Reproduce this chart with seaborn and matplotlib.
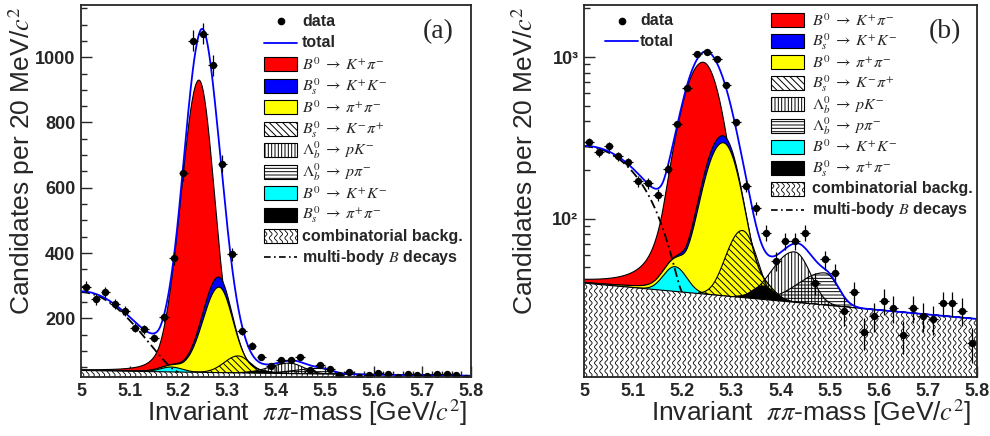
import numpy as np
import matplotlib
matplotlib.use("Agg")
import matplotlib.pyplot as plt
import seaborn as sns
from matplotlib.collections import LineCollection
from matplotlib.patches import Rectangle
from matplotlib.ticker import MultipleLocator, LogLocator, NullFormatter

# ---------------- binned data: pi pi invariant mass, 20 MeV/c^2 bins ----------------
mass_range = (5.0, 5.8)
bin_edges = np.linspace(mass_range[0], mass_range[1], 41)
bin_centers = 0.5 * (bin_edges[:-1] + bin_edges[1:])
counts = np.array([297, 258, 280, 244, 223, 171, 166, 140, 203, 384,
                   645, 1050, 1072, 975, 673, 396, 160, 116, 82, 55,
                   73, 73, 82, 40, 56, 46, 27, 35, 20, 25,
                   31, 28, 19, 28, 25, 24, 30, 30, 27, 17])

# ---------------- fit components ----------------
# peak shapes: [mean, sigma low side, sigma high side, peak height]
comb_level = [40.0, 24.0]            # combinatorial background at 5.0 and 5.8
multibody_par = [240.0, 5.20, 1.5]   # height at 5.0, kinematic endpoint, power
radiative_tail = [2.2, 2.0]          # Crystal Ball alpha, n
b0_kpi = [5.242, 0.036, 0.032, 895.0]
bs_kk = [5.277, 0.034, 0.022, 32.0]
b0_pipi = [5.283, 0.033, 0.029, 262.0]
bs_kpi = [5.322, 0.028, 0.025, 52.0]
lb_pk = [5.428, 0.040, 0.028, 32.0]
lb_ppi = [5.490, 0.050, 0.024, 17.0]
b0_kk = [5.185, 0.022, 0.022, 15.0]
bs_pipi = [5.365, 0.022, 0.022, 7.0]

comp_labels = [r"$B^0 \;\rightarrow\; K^{+}\pi^{-}$", r"$B_s^0 \;\rightarrow\; K^{+}K^{-}$",
               r"$B^0 \;\rightarrow\; \pi^{+}\pi^{-}$", r"$B_s^0 \;\rightarrow\; K^{-}\pi^{+}$",
               r"$\Lambda_b^0 \;\rightarrow\; pK^{-}$", r"$\Lambda_b^0 \;\rightarrow\; p\pi^{-}$",
               r"$B^0 \;\rightarrow\; K^{+}K^{-}$", r"$B_s^0 \;\rightarrow\; \pi^{+}\pi^{-}$"]
comb_label = "combinatorial backg."
multi_label = r"multi-body $B$ decays"
x_tick_vals = [5.0, 5.1, 5.2, 5.3, 5.4, 5.5, 5.6, 5.7, 5.8]
x_tick_text = ["5", "5.1", "5.2", "5.3", "5.4", "5.5", "5.6", "5.7", "5.8"]
ylin_tick_vals = [200, 400, 600, 800, 1000]
ylog_tick_vals = [100, 1000]
ylog_tick_text = ["10\u00b2", "10\u00b3"]

RED, BLUE, YELLOW, CYAN = "#ff0000", "#0000ff", "#ffff00", "#00ffff"


def bifurcated_gauss(x, p):
    mean, s_lo, s_hi, h = p
    s = np.where(x < mean, s_lo, s_hi)
    return h * np.exp(-0.5 * ((x - mean) / s) ** 2)


def crystal_ball(x, p, tail):
    mean, s_lo, s_hi, h = p
    alpha, n = tail
    t = np.where(x < mean, (x - mean) / s_lo, (x - mean) / s_hi)
    a = (n / alpha) ** n * np.exp(-0.5 * alpha ** 2)
    b = n / alpha - alpha
    low = a / np.power(np.maximum(b - t, 1e-9), n)
    return h * np.where(t < -alpha, low, np.exp(-0.5 * t ** 2))


def combinatorial(x, ends):
    lo, hi = ends
    return lo * (hi / lo) ** ((x - mass_range[0]) / (mass_range[1] - mass_range[0]))


def multibody(x, p):
    h, end, pw = p
    u = np.clip((x - mass_range[0]) / (end - mass_range[0]), 0, 1)
    return h * (1 - u ** 2) ** pw


xf = np.linspace(mass_range[0], mass_range[1], 801)
c_comb = combinatorial(xf, comb_level)
c_multi = multibody(xf, multibody_par)
c_kpi = crystal_ball(xf, b0_kpi, radiative_tail)
c_pipi = crystal_ball(xf, b0_pipi, radiative_tail)
c_bskk = bifurcated_gauss(xf, bs_kk)
c_bskpi = bifurcated_gauss(xf, bs_kpi)
c_lbpk = bifurcated_gauss(xf, lb_pk)
c_lbppi = bifurcated_gauss(xf, lb_ppi)
c_kk = bifurcated_gauss(xf, b0_kk)
c_bspipi = bifurcated_gauss(xf, bs_pipi)
total = (c_comb + c_multi + c_kpi + c_pipi + c_bskk + c_bskpi + c_lbpk
         + c_lbppi + c_kk + c_bspipi)

sns.set_style("ticks")
plt.rcParams["font.family"] = ["Liberation Sans", "DejaVu Sans"]
plt.rcParams["mathtext.fontset"] = "stix"
plt.rcParams["hatch.linewidth"] = 0.7
plt.rcParams["hatch.color"] = "k"

FIG_W, FIG_H = 990, 436
fig = plt.figure(figsize=(FIG_W / 100, FIG_H / 100), dpi=100)

WAVE_SPACING, WAVE_AMP, WAVE_PERIOD = 5.2, 1.4, 8.0


def wavy_lines(x0, x1, y0, y1, to_unit):
    """Vertical sine-wave hatch used for the combinatorial background."""
    segs = []
    yy = np.arange(y0, y1 + 0.01, 0.4)
    for xs in np.arange(x0 + 1.5, x1, WAVE_SPACING):
        px = xs + WAVE_AMP * np.sin(2 * np.pi * yy / WAVE_PERIOD)
        segs.append(to_unit(np.column_stack([px, yy])))
    return segs


def draw_panel(ax, log, w_px, h_px):
    floor = 1.0 if log else 0.0
    base = c_comb + c_kk + c_bspipi
    for top, col, z in [(base + c_kpi, RED, 1.00),
                        (base + c_pipi + c_bskk, BLUE, 1.10),
                        (base + c_pipi, YELLOW, 1.20),
                        (c_comb + c_kk, CYAN, 1.30)]:
        ax.fill_between(xf, floor, top, facecolor=col, edgecolor="none", zorder=z)
        ax.plot(xf, top, color="k", lw=0.8, zorder=z + 0.01)

    for comp, hatch, z in [(c_bskpi, "\\\\\\\\\\", 1.40),
                           (c_lbpk, "|||||", 1.50),
                           (c_lbppi, "-----", 1.60)]:
        ax.fill_between(xf, c_comb, c_comb + comp, facecolor="none", edgecolor="k",
                        hatch=hatch, linewidth=0, zorder=z)
        ax.plot(np.where(comp > 0.3, xf, np.nan), c_comb + comp, color="k", lw=0.8,
                zorder=z + 0.01)

    ax.fill_between(xf, c_comb, c_comb + c_bspipi, facecolor="k", edgecolor="none",
                    zorder=1.70)

    poly = ax.fill_between(xf, floor, c_comb, facecolor="white", edgecolor="none",
                           zorder=1.80)
    segs = wavy_lines(0, w_px, 0, h_px, lambda a: a / np.array([w_px, h_px]))
    lc = LineCollection(segs, colors="k", linewidths=0.6, transform=ax.transAxes,
                        zorder=1.85)
    ax.add_collection(lc, autolim=False)
    lc.set_clip_path(poly.get_paths()[0], ax.transData)
    ax.plot(xf, c_comb, color="k", lw=0.8, zorder=1.86)

    m = xf <= multibody_par[1]
    ax.plot(xf[m], (c_comb + c_multi)[m], color="k", lw=1.3, dashes=(5, 2, 1, 2),
            zorder=3.0)

    sns.lineplot(x=xf, y=total, ax=ax, color=BLUE, linewidth=1.3, zorder=3.1)

    ax.errorbar(bin_centers, counts, yerr=np.sqrt(counts), xerr=0.01, fmt="none",
                ecolor="k", elinewidth=0.9, capsize=0, zorder=3.9)
    sns.scatterplot(x=bin_centers, y=counts, ax=ax, color="k", s=28, linewidth=0,
                    zorder=4.0)

    ax.set_xlim(*mass_range)
    ax.set_xticks(x_tick_vals, x_tick_text, fontweight="bold", fontsize=13)
    ax.xaxis.set_minor_locator(MultipleLocator(0.02))
    if log:
        ax.set_yscale("log")
        ax.set_ylim(10.5, 2100)
        ax.set_yticks(ylog_tick_vals, ylog_tick_text, fontweight="bold", fontsize=13)
        ax.yaxis.set_minor_locator(LogLocator(base=10, subs=np.arange(2, 10)))
        ax.yaxis.set_minor_formatter(NullFormatter())
    else:
        ax.set_ylim(20, 1160)
        ax.set_yticks(ylin_tick_vals, [str(v) for v in ylin_tick_vals],
                      fontweight="bold", fontsize=13)
        ax.yaxis.set_minor_locator(MultipleLocator(50))
    ax.set_xlabel("")
    ax.set_ylabel("")
    ax.tick_params(which="both", direction="in", top=False, right=False, width=1.0)
    ax.tick_params(which="major", length=8, pad=4)
    ax.tick_params(which="minor", length=4)
    for sp in ax.spines.values():
        sp.set_visible(True)
        sp.set_linewidth(1.3)
        sp.set_zorder(5)


# axes placement in pixels: left, top, right, bottom
pa = (81, 5, 471, 377)
pb = (584, 5, 977, 377)
ax_a = fig.add_axes([pa[0] / FIG_W, 1 - pa[3] / FIG_H, (pa[2] - pa[0]) / FIG_W,
                     (pa[3] - pa[1]) / FIG_H])
ax_b = fig.add_axes([pb[0] / FIG_W, 1 - pb[3] / FIG_H, (pb[2] - pb[0]) / FIG_W,
                     (pb[3] - pb[1]) / FIG_H])
draw_panel(ax_a, False, pa[2] - pa[0], pa[3] - pa[1])
draw_panel(ax_b, True, pb[2] - pb[0], pb[3] - pb[1])

# ---------------- overlay in pixel coordinates: legends and titles ----------------
ov = fig.add_axes([0, 0, 1, 1], zorder=10)
ov.set_xlim(0, FIG_W)
ov.set_ylim(FIG_H, 0)
ov.axis("off")
ov.patch.set_alpha(0)

BOX_W, BOX_H = 33, 14
comp_styles = [dict(face=RED), dict(face=BLUE), dict(face=YELLOW),
               dict(face="white", hatch="\\\\\\\\\\"), dict(face="white", hatch="|||||"),
               dict(face="white", hatch="-----"), dict(face=CYAN), dict(face="k")]


def legend_box(x, y, face="white", hatch=None, wavy=False):
    r = Rectangle((x, y - BOX_H / 2), BOX_W, BOX_H, facecolor=face, edgecolor="k",
                  lw=0.8, hatch=hatch, zorder=2)
    ov.add_patch(r)
    if wavy:
        segs = wavy_lines(x, x + BOX_W, y - BOX_H / 2, y + BOX_H / 2, lambda a: a)
        lc = LineCollection(segs, colors="k", linewidths=0.6, zorder=2.1)
        ov.add_collection(lc, autolim=False)
        lc.set_clip_path(r)


def bold_text(x, y, s):
    ov.text(x, y, s, ha="left", va="center", fontsize=11.5, fontweight="bold")


def math_text(x, y, s):
    ov.text(x, y + 0.5, s, ha="left", va="center", fontsize=11.5)


def data_entry(x, y, tx):
    ov.plot([x + BOX_W / 2], [y], "o", ms=4.5, color="k")
    bold_text(tx, y, "data")


def total_entry(x, y, tx):
    ov.plot([x, x + BOX_W], [y, y], color=BLUE, lw=1.3)
    bold_text(tx, y, "total")


def component_entries(x, y0, step, tx):
    for i, (lab, st) in enumerate(zip(comp_labels, comp_styles)):
        y = y0 + i * step
        legend_box(x, y, **st)
        math_text(tx, y, lab)
    y = y0 + 8 * step
    legend_box(x, y, wavy=True)
    bold_text(tx, y, comb_label)
    y = y0 + 9 * step
    ov.plot([x, x + BOX_W], [y, y], color="k", lw=1.2, dashes=(4, 2, 1, 2))
    bold_text(tx, y, multi_label)


# panel (a) legend
step_a = 21.45
data_entry(264, 21.5, 302)
total_entry(264, 21.5 + step_a, 302)
component_entries(264, 21.5 + 2 * step_a, step_a, 302)

# panel (b) legend
data_entry(605, 20.7, 640)
total_entry(605, 41.5, 640)
component_entries(771, 20.0, 21.1, 812)

# panel letters
ov.text(438, 32, "(a)", fontsize=20, family="Liberation Serif", ha="center", va="center")
ov.text(945, 32, "(b)", fontsize=20, family="Liberation Serif", ha="center", va="center")

# axis titles
ytitle = "Candidates per 20 MeV/$c^2$"
xtitle = r"Invariant  $\pi\pi$-mass [GeV/$c^2$]"
ov.text(22, 6, ytitle, rotation=90, ha="center", va="top", fontsize=19)
ov.text(525, 6, ytitle, rotation=90, ha="center", va="top", fontsize=19)
ov.text(467, 413, xtitle, ha="right", va="center", fontsize=19)
ov.text(971, 413, xtitle, ha="right", va="center", fontsize=19)

fig.savefig("out.png", dpi=100)
